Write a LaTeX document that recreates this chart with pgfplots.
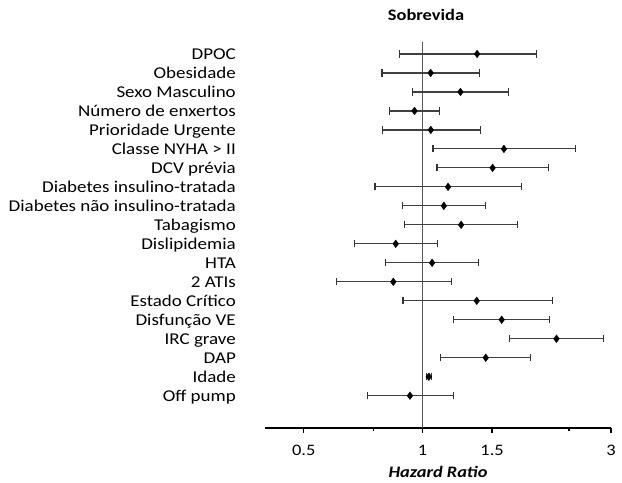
\documentclass[border=0pt]{standalone}
\usepackage{pgfplots}
\pgfplotsset{compat=1.18}
\usepackage{pgfplotstable}
\usepackage{fontspec}
\setmainfont{Carlito}[FakeStretch=1.15]

\pgfplotstableread{
y  x      lo     hi
18 1.374  0.873  1.947
17 1.048  0.789  1.395
16 1.247  0.941  1.651
15 0.954  0.823  1.101
14 1.049  0.791  1.404
13 1.607  1.062  2.434
12 1.504  1.088  2.081
11 1.160  0.758  1.781
10 1.132  0.888  1.443
9  1.252  0.901  1.743
8  0.855  0.671  1.091
7  1.057  0.804  1.387
6  0.843  0.605  1.181
5  1.371  0.892  2.130
4  1.586  1.197  2.097
3  2.183  1.659  2.870
2  1.445  1.110  1.880
1  1.037  1.021  1.055
0  0.929  0.725  1.195
}\hr

\begin{document}
\begin{tikzpicture}
\begin{axis}[
  at={(0,0)}, anchor=south west,
  scale only axis,
  width=346bp, height=386bp,
  xmode=log,
  xmin=0.399, xmax=3,
  ymin=-1.70, ymax=18.63,
  axis x line*=bottom,
  axis y line*=left,
  y axis line style={draw=none},
  x axis line style={-, line width=1.6pt, black},
  xtick={0.5,1,1.5,3},
  xticklabels={0.5,1,1.5,3},
  extra x ticks={0.75,2.35},
  extra x tick labels={},
  extra x tick style={major tick length=3bp},
  minor xtick={},
  xtick align=outside,
  major tick length=5bp,
  xtick style={line width=1.4pt, black},
  ytick style={draw=none},
  xticklabel style={font=\fontsize{16bp}{18bp}\selectfont, yshift=-9bp},
  ytick={18,17,...,0},
  yticklabels={DPOC,Obesidade,Sexo Masculino,Número de enxertos,Prioridade Urgente,Classe NYHA > II,DCV prévia,Diabetes insulino-tratada,Diabetes não insulino-tratada,Tabagismo,Dislipidemia,HTA,2 ATIs,Estado Crítico,Disfunção VE,IRC grave,DAP,Idade,Off pump},
  yticklabel style={anchor=base east, inner sep=0pt, xshift=-29bp, yshift=-5.5bp, font=\fontsize{16.5bp}{18bp}\selectfont},
  clip=false,
]
\addplot[black!65, line width=1.2pt, forget plot] coordinates {(1,-1.70) (1,18.63)};
\addplot[
  only marks, mark=diamond*, mark size=3.8bp,
  mark options={fill=black, draw=black, line width=0.4pt},
  error bars/.cd,
    x dir=both, x explicit,
    error mark=|,
    error mark options={mark size=3.6bp, line width=1.2pt, black!80},
    error bar style={line width=1.2pt, black!75},
] table[x=x, y=y,
  x error plus expr=\thisrow{hi}-\thisrow{x},
  x error minus expr=\thisrow{x}-\thisrow{lo}] {\hr};
\end{axis}
\node[font=\fontsize{16bp}{18bp}\selectfont\bfseries] at (161bp,413bp) {Sobrevida};
\node[font=\fontsize{16bp}{18bp}\selectfont\bfseries\itshape] at (173bp,-44bp) {Hazard Ratio};
\pgfresetboundingbox
\useasboundingbox (-265bp,-55bp) rectangle (357bp,428bp);
\end{tikzpicture}
\end{document}
